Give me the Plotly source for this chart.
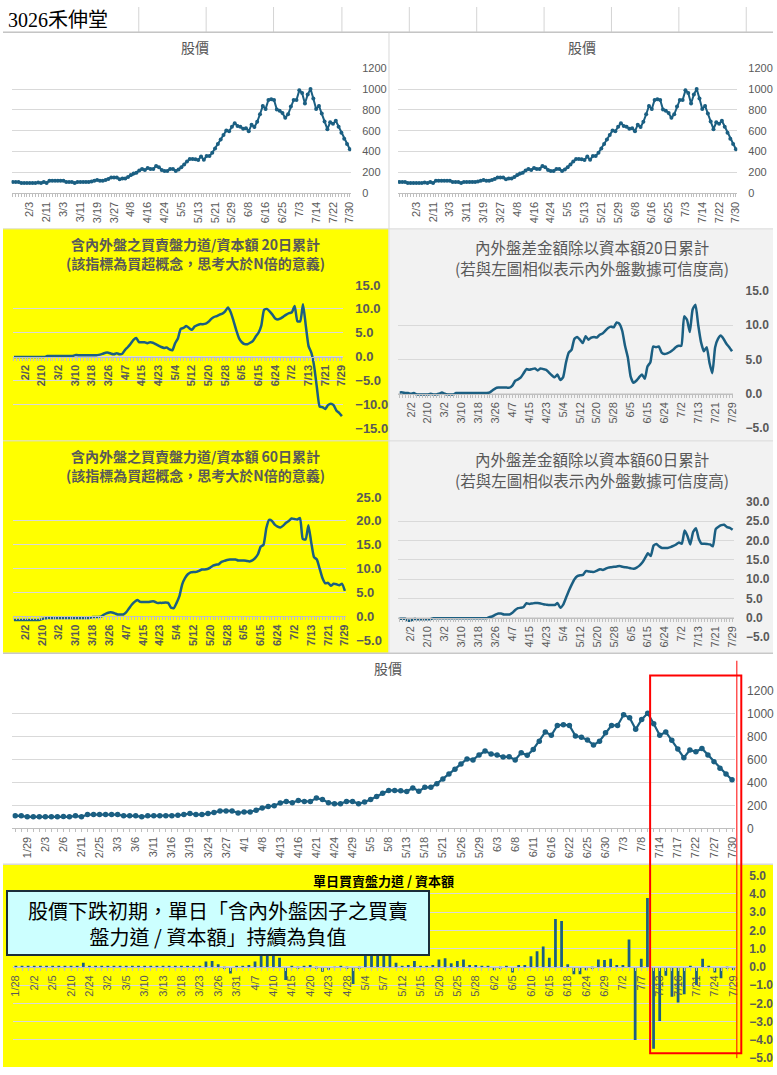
import plotly.graph_objects as go

W, H = 777, 1075

# ---------------- data ----------------
dates = ["1/26", "1/27", "1/28", "1/29", "1/30",
         "2/2", "2/3", "2/4", "2/5", "2/6", "2/9", "2/10", "2/11", "2/23", "2/24", "2/25", "2/26",
         "3/2", "3/3", "3/4", "3/5", "3/6", "3/9", "3/10", "3/11", "3/12", "3/13", "3/16", "3/17",
         "3/18", "3/19", "3/20", "3/23", "3/24", "3/25", "3/26", "3/27", "3/30", "3/31",
         "4/1", "4/2", "4/7", "4/8", "4/9", "4/10", "4/13", "4/14", "4/15", "4/16", "4/17", "4/20",
         "4/21", "4/22", "4/23", "4/24", "4/27", "4/28", "4/29", "4/30",
         "5/4", "5/5", "5/6", "5/7", "5/8", "5/11", "5/12", "5/13", "5/14", "5/15", "5/18", "5/19",
         "5/20", "5/21", "5/22", "5/25", "5/26", "5/27", "5/28", "5/29",
         "6/1", "6/2", "6/3", "6/4", "6/5", "6/8", "6/9", "6/10", "6/11", "6/12", "6/15", "6/16",
         "6/17", "6/18", "6/22", "6/23", "6/24", "6/25", "6/26", "6/29", "6/30",
         "7/1", "7/2", "7/3", "7/6", "7/7", "7/8", "7/9", "7/13", "7/14", "7/15", "7/16", "7/17",
         "7/20", "7/21", "7/22", "7/23", "7/24", "7/27", "7/28", "7/29", "7/30"]

# closing price 1/26 .. 7/30
price = [110, 109, 109, 100, 100, 100, 100, 100, 100, 103,
         100, 109, 100, 120, 120, 120, 120, 120, 120, 109,
         109, 109, 100, 109, 109, 109, 109, 109, 114, 120,
         129, 120, 120, 129, 137, 152, 152, 152, 134, 143,
         143, 157, 177, 191, 197, 220, 234, 223, 243, 234,
         234, 263, 251, 223, 214, 214, 234, 234, 214, 229,
         251, 277, 306, 330, 330, 328, 320, 352, 323, 357,
         357, 389, 429, 472, 515, 560, 603, 595, 638, 672,
         646, 638, 620, 623, 595, 658, 635, 686, 758, 838,
         809, 895, 901, 895, 804, 792, 769, 724, 758, 832,
         895, 895, 987, 961, 861, 947, 1001, 909, 809, 838,
         766, 689, 615, 681, 666, 695, 638, 580, 523, 472, 423]

# indicators 1/27 .. 7/29
force20 = [-0.1, -0.1, -0.1, -0.1, -0.1, -0.1, -0.1, -0.1, -0.1, -0.1,
           -0.1, -0.1, 0.1, 0.1, 0.1, 0.1, 0.1, 0.1, 0.1, 0.1,
           0.1, 0.1, 0.3, 0.3, 0.3, 0.3, 0.3, 0.3, 0.3, 0.3,
           0.3, 0.4, 0.6, 0.8, 0.8, 0.6, 0.5, 0.7, 0.5, 0.6,
           1.4, 2.0, 2.7, 3.5, 3.9, 3.0, 3.0, 3.0, 2.8, 3.0,
           2.9, 2.6, 2.3, 2.0, 1.8, 1.9, 1.5, 1.3, 2.8, 3.8,
           5.8, 6.0, 6.4, 6.0, 5.6, 6.3, 6.6, 6.8, 6.8, 6.9,
           7.3, 7.9, 8.3, 8.5, 8.8, 9.0, 9.5, 10.3, 9.3, 7.5,
           5.5, 3.8, 3.0, 2.6, 2.6, 2.9, 3.3, 4.2, 5.0, 6.5,
           9.8, 10.0, 9.5, 8.8, 8.0, 7.8, 8.0, 8.4, 8.8, 9.1,
           9.3, 10.6, 7.4, 7.4, 11.0, 6.5, 2.2, 0.8, -2.0, -6.5,
           -10.5, -10.6, -11.0, -10.2, -9.9, -10.2, -11.3, -11.8, -12.5]

diff20 = [0.2, 0.2, 0.1, 0.1, 0.0, 0.1, -0.1, -0.1, -0.1, -0.1,
          -0.1, 0.0, -0.1, -0.1, 0.0, 0.2, 0.0, -0.1, -0.1, -0.1,
          0.1, 0.1, 0.1, 0.1, 0.1, 0.1, 0.1, 0.1, 0.1, 0.1,
          0.1, 0.1, 0.2, 0.5, 0.8, 0.9, 0.9, 0.9, 0.9, 0.9,
          1.2, 1.9, 2.1, 2.4, 3.0, 3.6, 3.5, 3.6, 3.7, 3.4,
          3.7, 3.6, 3.5, 3.1, 2.7, 2.4, 2.8, 2.0, 2.4, 4.5,
          6.0, 6.4, 8.0, 8.3, 7.9, 7.4, 8.4, 7.9, 8.2, 8.3,
          8.2, 8.6, 8.8, 9.2, 9.6, 9.8, 9.7, 10.4, 10.2, 9.2,
          7.0, 5.3, 2.5, 1.6, 1.9, 2.4, 2.8, 2.2, 4.0, 4.6,
          6.9, 6.8, 6.9, 6.0, 5.8, 5.9, 6.1, 6.4, 6.8, 7.0,
          7.0, 11.3, 10.8, 9.0, 12.3, 13.0, 10.0, 7.5, 6.2, 6.8,
          4.5, 3.0, 6.8, 8.0, 8.5, 8.0, 7.3, 6.8, 6.2]

force60 = [-0.8, -0.8, -0.8, -0.8, -0.8, -0.8, -0.8, -0.8, -0.8, -0.8,
           -0.6, -0.45, -0.35, -0.35, -0.35, -0.35, -0.35, -0.35, -0.35, -0.35,
           -0.35, -0.35, -0.35, -0.35, -0.35, -0.35, -0.35, -0.35, -0.15, -0.15,
           -0.15, -0.1, 0.3, 0.6, 0.8, 0.8, 0.6, 0.35, 0.35, 0.35,
           0.8, 1.6, 2.4, 3.0, 3.4, 3.0, 3.0, 3.0, 3.0, 3.1,
           3.1, 2.8, 2.8, 2.8, 2.9, 2.8, 1.8, 1.7, 2.8, 4.2,
           6.7, 8.0, 8.8, 9.2, 9.3, 9.3, 9.5, 9.8, 9.8, 9.9,
           10.2, 10.6, 10.8, 10.9, 11.4, 11.6, 11.8, 11.9, 11.9, 11.9,
           11.7, 11.7, 11.7, 11.6, 11.5, 11.7, 12.2, 13.0, 14.6, 15.0,
           18.5, 20.2, 20.0, 19.2, 18.8, 18.6, 19.0, 19.6, 20.0, 20.5,
           20.4, 20.3, 20.6, 16.2, 16.1, 19.1, 15.5, 12.4, 11.9, 10.0,
           8.0, 6.9, 7.0, 6.4, 6.8, 6.7, 6.5, 6.8, 5.3]

diff60 = [-0.25, -0.25, -0.25, -0.7, -0.7, -0.35, -0.35, -0.35, -0.35, -0.35,
          -0.35, -0.35, -0.1, -0.1, -0.1, -0.1, -0.1, -0.1, -0.1, -0.1,
          -0.1, -0.1, -0.1, -0.1, -0.1, -0.1, -0.1, -0.1, -0.1, -0.1,
          -0.1, -0.1, 0.2, 0.4, 0.8, 1.1, 1.1, 0.85, 0.85, 0.85,
          1.3, 2.0, 2.5, 2.6, 2.8, 3.8, 3.6, 3.7, 3.8, 3.8,
          3.7, 3.5, 3.4, 3.3, 3.3, 3.3, 3.8, 2.6, 3.4, 5.2,
          7.0, 8.6, 10.0, 10.8, 11.0, 11.1, 12.1, 12.0, 11.9, 11.9,
          12.2, 12.6, 12.4, 12.7, 13.0, 13.1, 13.2, 13.3, 13.4, 13.2,
          13.1, 13.0, 12.8, 12.7, 13.0, 13.5, 14.3, 15.5, 16.7, 16.0,
          18.7, 19.1, 18.5, 18.1, 18.1, 18.1, 18.3, 18.6, 19.0, 19.5,
          19.2, 22.6, 21.2, 19.0, 22.2, 23.2, 20.5, 19.2, 19.2, 19.1,
          19.0, 18.5, 23.0, 23.6, 24.0, 24.1, 23.5, 23.3, 22.8]

# single-day force / capital 1/28 .. 7/29
daily = [0.03, 0.03, 0.03, 0.03, 0.02, 0.03, 0.03, 0.02, 0.02, 0.03,
         0.02, 0.23, 0.05, 0.03, 0.03, 0.03, 0.02, 0.03, 0.02, 0.03,
         0.02, 0.02, 0.02, 0.02, 0.02, 0.02, 0.02, 0.04, 0.05, 0.02,
         0.03, 0.30, 0.32, 0.14, -0.07, -0.36, 0.02, 0.02, 0.10, 0.30,
         1.20, 1.00, 1.10, 0.50, -0.72, 0.04, -0.07, 0.03, 0.10, -0.07,
         -0.27, -0.16, -0.04, 0.05, -0.07, -0.94, -0.07, 1.30, 1.10, 1.00,
         1.00, 0.80, 0.23, 0.03, 0.10, 0.32, 0.02, 0.05, 0.10, 0.40,
         0.47, 0.20, 0.32, 0.40, 0.10, 0.10, 0.05, 0.02, -0.18, -0.07,
         0.02, -0.30, 0.10, 0.10, 0.58, 0.86, 1.12, 0.50, 2.63, 2.52,
         0.14, -0.40, -0.40, -0.18, -0.07, 0.40, 0.38, 0.45, 0.10, 0.10,
         1.50, -4.00, 0.45, 3.78, -4.49, -2.97, -0.49, -1.63, -1.95, -1.50,
         0.03, -0.99, 0.45, 0.05, -0.30, -0.62, -0.05, -0.17]

small_price_ticks = ["2/3", "2/11", "3/3", "3/11", "3/19", "3/27", "4/8", "4/16", "4/24", "5/5",
                     "5/13", "5/21", "5/29", "6/8", "6/16", "6/25", "7/3", "7/14", "7/22", "7/30"]
indicator_ticks = ["2/2", "2/10", "3/2", "3/10", "3/18", "3/26", "4/7", "4/15", "4/23", "5/4",
                   "5/12", "5/20", "5/28", "6/5", "6/15", "6/24", "7/2", "7/13", "7/21", "7/29"]
big_price_ticks = ["1/29", "2/3", "2/6", "2/11", "2/25", "3/3", "3/6", "3/11", "3/16", "3/19",
                   "3/24", "3/27", "4/1", "4/8", "4/13", "4/16", "4/21", "4/24", "4/29", "5/5",
                   "5/8", "5/13", "5/18", "5/21", "5/26", "5/29", "6/3", "6/8", "6/11", "6/16",
                   "6/22", "6/25", "6/30", "7/3", "7/8", "7/14", "7/17", "7/22", "7/27", "7/30"]
bar_ticks = ["1/28", "2/2", "2/5", "2/10", "2/24", "3/2", "3/5", "3/10", "3/13", "3/18",
             "3/23", "3/26", "3/31", "4/7", "4/10", "4/15", "4/20", "4/23", "4/28", "5/4",
             "5/7", "5/12", "5/15", "5/20", "5/25", "5/28", "6/2", "6/5", "6/10", "6/15",
             "6/18", "6/24", "6/29", "7/2", "7/7", "7/13", "7/16", "7/21", "7/24", "7/29"]

price_cats = dates                 # 1/26 .. 7/30
big_cats = dates[1:]               # 1/27 .. 7/30
ind_cats = dates[1:-1]             # 1/27 .. 7/29
bar_cats = dates[2:-1]             # 1/28 .. 7/29

# ---------------- styling ----------------
LINE = "#1b5f82"
GRID = "#D9D9D9"
TXT = "#595959"
LAT = "Liberation Sans, Arial, Noto Sans CJK TC, sans-serif"
CJK = "Noto Sans CJK TC, Liberation Sans, sans-serif"
YELLOW = "#FFFF00"
GRAY = "#F2F2F2"

fig = go.Figure()
layout = {}


def px2x(a):
    return a / W


def px2y(b):
    return 1 - b / H


def add_panel(n, xpx, ypx, cats, labels, yr, dtick, yfmt, ybold, ysize,
              xbold, zero_axis, ystand):
    xdom = [px2x(xpx[0]), px2x(xpx[1])]
    ydom = [px2y(ypx[1]), px2y(ypx[0])]
    labset = set(labels)
    xa = dict(domain=xdom, type="category", range=[-0.5, len(cats) - 0.5],
              tickmode="array", tickvals=cats,
              ticktext=[c if c in labset else "" for c in cats],
              tickangle=-90, ticks="outside", ticklen=3, tickcolor="#BFBFBF",
              showline=True, linecolor="#BFBFBF", linewidth=1, showgrid=False,
              tickfont=dict(family=LAT, size=11, color=TXT,
                            weight="bold" if xbold else "normal"),
              fixedrange=True)
    if zero_axis:
        frac = (0 - yr[0]) / (yr[1] - yr[0])
        xa.update(anchor="free", position=ydom[0] + frac * (ydom[1] - ydom[0]))
    else:
        xa.update(anchor=f"y{n}")
    ya = dict(domain=ydom, anchor=f"x{n}", side="right", range=yr, dtick=dtick,
              tick0=0, tickformat=yfmt, showgrid=True, gridcolor=GRID, gridwidth=1,
              zeroline=False, showline=False, ticks="",
              ticklabelstandoff=ystand,
              tickfont=dict(family=LAT, size=ysize, color=TXT,
                            weight="bold" if ybold else "normal"),
              fixedrange=True)
    key = "" if n == 1 else str(n)
    layout["xaxis" + key] = xa
    layout["yaxis" + key] = ya


# panel geometry (pixels)
add_panel(1, (8.6, 351.4), (62, 189), price_cats, small_price_ticks, [0, 1200], 200, "d",
          False, 11, False, False, 10)
add_panel(2, (398.6, 741.0), (62, 189), price_cats, small_price_ticks, [0, 1200], 200, "d",
          False, 11, False, False, 10)
add_panel(3, (9.6, 343.4), (282, 427), ind_cats, indicator_ticks, [-15, 15], 5, ".1f",
          True, 13, True, True, 11)
add_panel(4, (398.9, 737.1), (288, 427), ind_cats, indicator_ticks, [-5, 15], 5, ".1f",
          True, 12, False, True, 11)
add_panel(5, (9.6, 346.4), (497, 642), ind_cats, indicator_ticks, [-5, 25], 5, ".1f",
          True, 13, True, True, 9)
add_panel(6, (398.6, 737.7), (502, 639), ind_cats, indicator_ticks, [-5, 30], 5, ".1f",
          True, 12, False, True, 11)
add_panel(7, (9.3, 738.7), (693, 833), big_cats, big_price_ticks, [0, 1200], 200, "d",
          False, 12, False, False, 11)
add_panel(8, (9.9, 740.0), (881, 1066), bar_cats, bar_ticks, [-5, 5], 1, ".1f",
          True, 12, False, True, 12)

# ---------------- traces ----------------
def axes(n):
    return ("x", "y") if n == 1 else (f"x{n}", f"y{n}")


for n in (1, 2):
    xa, ya = axes(n)
    fig.add_trace(go.Scatter(x=price_cats, y=price, xaxis=xa, yaxis=ya,
                             mode="lines+markers", line=dict(color=LINE, width=2),
                             marker=dict(color=LINE, size=4), hoverinfo="skip",
                             showlegend=False))

for n, vals in ((3, force20), (4, diff20), (5, force60), (6, diff60)):
    xa, ya = axes(n)
    fig.add_trace(go.Scatter(x=ind_cats, y=vals, xaxis=xa, yaxis=ya, mode="lines",
                             line=dict(color=LINE, width=2.5, shape="spline", smoothing=0.5),
                             hoverinfo="skip", showlegend=False))

fig.add_trace(go.Scatter(x=big_cats, y=price[1:], xaxis="x7", yaxis="y7",
                         mode="lines+markers", line=dict(color=LINE, width=2.2),
                         marker=dict(color=LINE, size=5.5), hoverinfo="skip",
                         showlegend=False))

fig.add_trace(go.Bar(x=bar_cats, y=daily, xaxis="x8", yaxis="y8",
                     marker=dict(color=LINE, line=dict(width=0)),
                     hoverinfo="skip", showlegend=False))

# ---------------- shapes ----------------
shapes = []


def rect(x0, y0, x1, y1, fill=None, line=None, lw=0, layer="below"):
    d = dict(type="rect", xref="paper", yref="paper",
             x0=px2x(x0), x1=px2x(x1), y0=px2y(y1), y1=px2y(y0), layer=layer)
    d["fillcolor"] = fill if fill else "rgba(0,0,0,0)"
    d["line"] = dict(color=line or "rgba(0,0,0,0)", width=lw)
    shapes.append(d)


def seg(x0, y0, x1, y1, color, lw=1, layer="below"):
    shapes.append(dict(type="line", xref="paper", yref="paper",
                       x0=px2x(x0), x1=px2x(x1), y0=px2y(y0), y1=px2y(y1),
                       line=dict(color=color, width=lw), layer=layer))


rect(0, 225, 389, 440, fill=YELLOW)
rect(0, 440, 389, 655, fill=YELLOW)
rect(390, 225, 777, 440, fill=GRAY)
rect(390, 440, 777, 655, fill=GRAY)
rect(0, 870, 777, 1075, fill=YELLOW)

# spreadsheet cell lines in the header row
for cx in (137, 205, 273, 342, 410, 478, 546, 614, 682, 750):
    seg(cx, 0, cx, 25, "#D4D4D4")
seg(0, 25.5, 777, 25.5, "#A6A6A6")
# panel borders
seg(389.5, 26, 389.5, 655, "#D9D9D9")
for by in (225, 440):
    seg(0, by, 777, by, "#D9D9D9")
seg(0, 655.5, 777, 655.5, "#C8C8C8", 1.5)
seg(0, 869.5, 777, 869.5, "#D9D9D9", 1.5)

# red highlight
rect(653, 678, 745, 1061, line="#FF0000", lw=2, layer="above")
seg(740.5, 663, 740.5, 1066, "#FF0000", 1, layer="above")

# ---------------- annotations ----------------
ann = []


def text(x, y, s, size, color=TXT, bold=False, family=CJK, xanchor="center"):
    ann.append(dict(x=px2x(x), y=px2y(y), xref="paper", yref="paper", text=s,
                    showarrow=False, xanchor=xanchor, yanchor="middle",
                    font=dict(family=family, size=size, color=color,
                              weight="bold" if bold else "normal")))


text(3, 13, "3026禾伸堂", 20, color="#000000",
     family="Liberation Serif, Noto Sans CJK TC, serif", xanchor="left")
text(194, 41, "股價", 14)
text(584, 41, "股價", 14)
text(194, 240, "含內外盤之買賣盤力道/資本額 20日累計", 14, bold=True)
text(194, 260, "(該指標為買超概念，思考大於N倍的意義)", 14, bold=True)
text(594, 243, "內外盤差金額除以資本額20日累計", 15.5)
text(594, 265, "(若與左圖相似表示內外盤數據可信度高)", 15.5)
text(194, 455, "含內外盤之買賣盤力道/資本額 60日累計", 14, bold=True)
text(194, 475, "(該指標為買超概念，思考大於N倍的意義)", 14, bold=True)
text(594, 458, "內外盤差金額除以資本額60日累計", 15.5)
text(594, 480, "(若與左圖相似表示內外盤數據可信度高)", 15.5)
text(388, 670, "股價", 14)
text(384, 886, "單日買賣盤力道 / 資本額", 13, color="#000000", bold=True)

ann.append(dict(x=px2x(3), y=px2y(895), xref="paper", yref="paper",
                xanchor="left", yanchor="top", showarrow=False,
                text="股價下跌初期，單日「含內外盤因子之買賣<br>盤力道 / 資本額」持續為負值",
                font=dict(family=CJK, size=20, color="#000000"),
                bgcolor="#CCFFFF", bordercolor="#1A2E3A", borderwidth=2, borderpad=2,
                width=416, height=58, align="center", valign="middle"))

layout.update(width=W, height=H, margin=dict(l=0, r=0, t=0, b=0),
              paper_bgcolor="white", plot_bgcolor="rgba(0,0,0,0)",
              shapes=shapes, annotations=ann, bargap=0.55, showlegend=False,
              font=dict(family=LAT, color=TXT))
fig.update_layout(**layout)

fig.write_html("out.html", config={"displayModeBar": False},
               post_script="document.body.style.margin='0';"
                           "document.body.style.overflow='hidden';")
